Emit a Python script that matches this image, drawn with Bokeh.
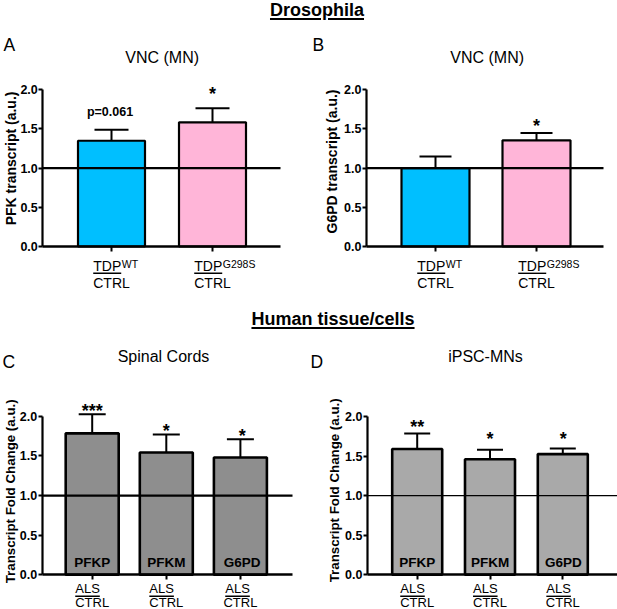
import numpy as np
from bokeh.plotting import figure
from bokeh.models import (Range1d, FixedTicker, PrintfTickFormatter, Label,
                          Arrow, ColumnDataSource, Div)
from bokeh.layouts import row, column
from bokeh.embed import file_html
from bokeh.resources import INLINE

# ---------------- data ----------------
tdp_superscripts = ["WT", "G298S"]
pfk_mean = [1.35, 1.585]
pfk_upper = [1.49, 1.765]
pfk_marks = ["p=0.061", "*"]
g6pd_mean = [1.0, 1.355]
g6pd_upper = [1.15, 1.45]
g6pd_marks = ["", "*"]
human_genes = ["PFKP", "PFKM", "G6PD"]
spinal_mean = [1.785, 1.543, 1.48]
spinal_upper = [2.025, 1.77, 1.71]
spinal_marks = ["***", "*", "*"]
ipsc_mean = [1.59, 1.46, 1.525]
ipsc_upper = [1.785, 1.58, 1.595]
ipsc_marks = ["**", "*", "*"]
y_ticks = [0.0, 0.5, 1.0, 1.5, 2.0]
control_ratio = 1.0
category_bottom = "CTRL"

FONT = "Liberation Sans"


def fsz(v):
    return f"{v:.2f}px"


def build_panel(cfg, means, uppers, marks, colors, ylabel, letter, subtitle,
                kind, sups=None, genes=None):
    gx0, gy0, gx1, gy1 = cfg["fig"]
    fx0, fx1 = cfg["frame_x"]
    zero, two = cfg["zero"], cfg["two"]
    cen = cfg["centers"]
    ppx = cen[1] - cen[0]
    ppu = (zero - two) / 2.0

    def xd(pxv):
        return (pxv - cen[0]) / ppx

    def yd(pyv):
        return (zero - pyv) / ppu

    W = gx1 - gx0
    H = gy1 - gy0
    p = figure(width=W, height=H, min_border=0,
               x_range=Range1d(xd(gx0), xd(gx1)), y_range=Range1d(yd(gy1), yd(gy0)),
               output_backend="svg", toolbar_location=None)
    p.xgrid.visible = False
    p.ygrid.visible = False
    p.outline_line_color = None
    p.background_fill_color = "white"
    p.border_fill_color = "white"

    n = len(means)
    xs = list(range(n))
    yax = p.yaxis[0]
    yax.fixed_location = xd(fx0)
    yax.bounds = (0, 2)
    yax.ticker = FixedTicker(ticks=y_ticks)
    yax.formatter = PrintfTickFormatter(format="%.1f")
    yax.major_label_text_font = FONT
    yax.major_label_text_font_style = "bold"
    yax.major_label_text_font_size = fsz(12.5)
    yax.major_label_text_color = "black"
    yax.major_label_standoff = 1
    yax.major_tick_out = 4
    yax.major_tick_in = 0
    yax.major_tick_line_width = 2
    yax.minor_tick_line_color = None
    yax.axis_line_width = 2.2
    yax.axis_line_color = "black"
    yax.major_tick_line_color = "black"

    xax = p.xaxis[0]
    xax.fixed_location = 0.0
    xax.bounds = (xd(fx0), xd(fx1))
    xax.ticker = FixedTicker(ticks=xs)
    xax.major_label_overrides = {i: category_bottom for i in xs}
    xax.major_label_text_font = FONT
    xax.major_label_text_font_size = fsz(cfg["cat_fs"])
    xax.major_label_text_color = "black"
    xax.major_label_standoff = cfg["cat_standoff"]
    xax.major_tick_out = 5
    xax.major_tick_in = 0
    xax.major_tick_line_width = 2
    xax.minor_tick_line_color = None
    xax.axis_line_width = 2.5
    xax.axis_line_color = "black"
    xax.major_tick_line_color = "black"

    bw = cfg["bar_w"] / ppx
    cw = cfg["cap_w"] / ppx
    src = ColumnDataSource(dict(x=xs, top=means, upper=uppers, color=colors,
                                xl=[x - cw / 2 for x in xs], xr=[x + cw / 2 for x in xs]))
    p.segment(x0="x", y0="top", x1="x", y1="upper", source=src,
              line_color="black", line_width=2)
    p.segment(x0="xl", y0="upper", x1="xr", y1="upper", source=src,
              line_color="black", line_width=2)
    p.vbar(x="x", top="top", bottom=0, width=bw, source=src, fill_color="color",
           line_color="black", line_width=cfg["bar_lw"])
    # reference line at ratio 1.0, spanning the x axis
    p.segment(x0=[xd(fx0)], y0=[control_ratio], x1=[xd(fx1)], y1=[control_ratio],
              line_color="black", line_width=cfg["span_lw"])

    def lab(x, y, text, size, bold=False, align="left", angle=0.0):
        p.add_layout(Label(x=x, y=y, text=text, text_font=FONT, text_font_size=fsz(size),
                           text_font_style="bold" if bold else "normal",
                           text_align=align, text_baseline="middle", angle=angle,
                           text_color="black"))

    # panel letter and subtitle (y = visual centre of capitals)
    lab(xd(cfg["letter_x"]), yd(cfg["letter_y"]), letter, 17.5)
    lab(xd(cfg["sub_x"]), yd(cfg["sub_y"]), subtitle, 16, align="center")
    # y axis label (rotated)
    lab(xd(cfg["ylab_x"]), yd(cfg["ylab_y"]), ylabel, cfg["ylab_fs"], bold=True,
        align="center", angle=np.pi / 2)

    # significance marks
    for i, m in enumerate(marks):
        if not m:
            continue
        if m.startswith("p"):
            lab(xd(cen[i] + cfg["mark_dx"][i]), yd(cfg["mark_y"][i]), m, 12.5, bold=True,
                align="center")
        else:
            lab(xd(cen[i] + cfg["mark_dx"][i]), yd(cfg["mark_y"][i] + 4), m, 18, bold=True,
                align="center")

    # category numerators (underlined)
    for i in range(n):
        c = cen[i]
        f = cfg["cat_fs"]
        l = c - 2.611 * f / 2
        if kind == "tdp":
            lab(xd(l), yd(265), "TDP", f)
            lab(xd(l + 2.0 * f + 0.5), yd(263.3), sups[i], 10.5)
            ul_y, ul_w = 272.8, 2.0 * f
        else:
            lab(xd(l), yd(588.3), "ALS", f)
            ul_y, ul_w = 595.8, 1.89 * f
            lab(xd(c), yd(561.8), genes[i], 13.5, bold=True, align="center")
        p.add_layout(Arrow(end=None, x_start=xd(l), y_start=yd(ul_y),
                           x_end=xd(l + ul_w), y_end=yd(ul_y),
                           line_color="black", line_width=1.4))
    return p


cfgA = dict(fig=(0, 30, 300, 295), frame_x=(42.3, 280), zero=246, two=89.3,
            centers=[111, 212], bar_w=67, cap_w=34, bar_lw=2.2, span_lw=2.2,
            letter_x=3, letter_y=44, sub_x=161.7, sub_y=57, ylab_x=10.5, ylab_y=156,
            ylab_fs=14, mark_dx=[-1.5, 0], mark_y=[111.5, 89], cat_fs=14, cat_standoff=23)
cfgB = dict(fig=(300, 30, 617, 295), frame_x=(366, 603), zero=246, two=89.3,
            centers=[435, 536], bar_w=68, cap_w=32, bar_lw=2.2, span_lw=2.2,
            letter_x=312, letter_y=44, sub_x=486.7, sub_y=57, ylab_x=331, ylab_y=159,
            ylab_fs=14, mark_dx=[0, 0], mark_y=[0, 121.7], cat_fs=14, cat_standoff=23)
cfgC = dict(fig=(0, 335, 300, 609), frame_x=(41.7, 292), zero=574.3, two=415.8,
            centers=[91.7, 165.8, 241.7], bar_w=53, cap_w=27, bar_lw=2.6, span_lw=2.2,
            letter_x=2, letter_y=361, sub_x=163, sub_y=355.5, ylab_x=9.5, ylab_y=489,
            ylab_fs=13.3, mark_dx=[0, 0, 0], mark_y=[406.5, 426.7, 431.7],
            cat_fs=13, cat_standoff=15)
cfgD = dict(fig=(300, 335, 617, 609), frame_x=(367, 617), zero=574.3, two=416,
            centers=[416.7, 489.5, 562.8], bar_w=50, cap_w=26, bar_lw=2.6, span_lw=1.2,
            letter_x=310, letter_y=361, sub_x=485, sub_y=355.5, ylab_x=334, ylab_y=488,
            ylab_fs=13.3, mark_dx=[0, 0, 0], mark_y=[422.5, 434.5, 434.5],
            cat_fs=13, cat_standoff=15)

BLUE = "#00BFFF"
PINK = "#FFB5D8"
pA = build_panel(cfgA, pfk_mean, pfk_upper, pfk_marks, [BLUE, PINK],
                 "PFK transcript  (a.u.)", "A", "VNC (MN)", "tdp", sups=tdp_superscripts)
pB = build_panel(cfgB, g6pd_mean, g6pd_upper, g6pd_marks, [BLUE, PINK],
                 "G6PD transcript  (a.u.)", "B", "VNC (MN)", "tdp", sups=tdp_superscripts)
pC = build_panel(cfgC, spinal_mean, spinal_upper, spinal_marks, ["#8E8E8E"] * 3,
                 "Transcript Fold Change  (a.u.)", "C", "Spinal Cords", "als", genes=human_genes)
pD = build_panel(cfgD, ipsc_mean, ipsc_upper, ipsc_marks, ["#A9A9A9"] * 3,
                 "Transcript Fold Change  (a.u.)", "D", "iPSC-MNs", "als", genes=human_genes)


def title_div(text, center_x, top, height):
    html = (f'<div style="position:relative;width:617px;height:{height}px;">'
            f'<span style="position:absolute;left:{center_x:.1f}px;top:{top:.1f}px;'
            f'transform:translateX(-50%);white-space:nowrap;line-height:1;'
            f'font-family:\'{FONT}\';font-weight:bold;font-size:18px;color:black;'
            f'text-decoration:underline;text-decoration-thickness:2px;'
            f'text-underline-offset:2px;">{text}</span></div>')
    return Div(text=html, width=617, height=height, margin=0)


d1 = title_div("Drosophila", 317, 0.5, 30)
d2 = title_div("Human tissue/cells", 333, 15.0, 40)

layout = column(d1, row(pA, pB), d2, row(pC, pD))

open("out.html", "w").write(file_html(layout, INLINE))
